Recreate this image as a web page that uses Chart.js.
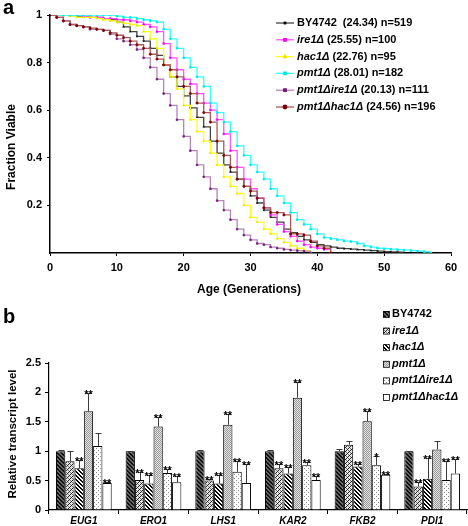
<!DOCTYPE html>
<html><head><meta charset="utf-8">
<script src="https://cdn.jsdelivr.net/npm/chart.js@4.4.0/dist/chart.umd.min.js"></script>
<style>
html,body{margin:0;padding:0;background:#fff;width:468px;height:526px;overflow:hidden}
canvas{position:absolute;left:0}
#ca{top:0}
#cb{top:300px}
</style></head><body>
<canvas id="ca" width="468" height="300"></canvas>
<canvas id="cb" width="468" height="226"></canvas>
<script>
const FONT = '"Liberation Sans", Arial, sans-serif';

// ---------- Panel a data (fraction viable at each generation, starting at 0) ----------
const strains = ['BY4742', 'ire1\u0394', 'hac1\u0394', 'pmt1\u0394', 'pmt1\u0394ire1\u0394', 'pmt1\u0394hac1\u0394'];
const strainItalic = [false, true, true, true, true, true];
const meanLife = ['24.34', '25.55', '22.76', '28.01', '20.13', '24.56'];
const nCells = [519, 100, 95, 182, 111, 196];

const survBY4742 = [1,1,1,0.997,0.995,0.993,0.99,0.99,0.985,0.98,
  0.97,0.95,0.93,0.91,0.89,0.86,0.83,0.79,0.74,0.70,
  0.66,0.61,0.57,0.53,0.47,0.42,0.37,0.34,0.31,0.28,
  0.24,0.21,0.18,0.15,0.13,0.10,0.085,0.07,0.055,0.045,
  0.035,0.03,0.025,0.02,0.018,0.016,0.014,0.012,0.01,0.008,
  0.006,0.005,0.004,0];
const survIre1 = [1,1,1,1,1,0.995,0.99,0.99,0.985,0.985,
  0.98,0.98,0.975,0.97,0.96,0.95,0.93,0.88,0.82,0.77,
  0.73,0.71,0.67,0.63,0.60,0.56,0.50,0.43,0.36,0.31,
  0.27,0.23,0.19,0.16,0.12,0.09,0.07,0.05,0.035,0.025,
  0.02,0.015,0];
const survHac1 = [1,1,1,0.995,0.99,0.99,0.99,0.985,0.98,0.975,
  0.97,0.965,0.96,0.955,0.93,0.90,0.86,0.79,0.74,0.69,
  0.62,0.56,0.51,0.47,0.42,0.37,0.32,0.28,0.25,0.20,
  0.15,0.13,0.10,0.08,0.06,0.045,0.03,0.02,0.01,0];
const survPmt1 = [1,1,1,1,1,1,1,1,1,1,
  0.995,0.99,0.99,0.985,0.98,0.975,0.97,0.94,0.90,0.86,
  0.82,0.78,0.74,0.70,0.63,0.59,0.55,0.51,0.45,0.41,
  0.37,0.34,0.31,0.27,0.24,0.21,0.17,0.14,0.12,0.10,
  0.08,0.065,0.06,0.055,0.05,0.048,0.04,0.03,0.025,0.02,
  0.018,0.016,0.014,0.012,0.01,0.008,0.005,0];
const survPmt1Ire1 = [1,0.99,0.975,0.96,0.955,0.95,0.94,0.94,0.935,0.92,
  0.90,0.89,0.875,0.855,0.82,0.78,0.73,0.67,0.62,0.56,
  0.49,0.43,0.37,0.32,0.27,0.22,0.18,0.14,0.10,0.075,
  0.055,0.04,0.035,0.025,0.02,0.015,0.012,0.01,0.008,0];
const survPmt1Hac1 = [1,0.99,0.975,0.96,0.955,0.95,0.945,0.94,0.935,0.925,
  0.915,0.905,0.89,0.875,0.86,0.835,0.815,0.79,0.77,0.74,
  0.70,0.67,0.63,0.59,0.55,0.47,0.41,0.36,0.31,0.28,
  0.26,0.23,0.19,0.17,0.17,0.16,0.08,0.08,0.075,0.05,
  0.03,0.02,0];
const xTicksA = [0, 10, 20, 30, 40, 50, 60];
const yTicksA = [0.2, 0.4, 0.6, 0.8, 1];

// ---------- Panel b data ----------
const genes = ['EUG1', 'ERO1', 'LHS1', 'KAR2', 'FKB2', 'PDI1'];
const exprBY4742   = [1, 1, 1, 1, 1, 1];
const exprIre1     = [0.83, 0.51, 0.50, 0.71, 1.11, 0.40];
const exprHac1     = [0.71, 0.45, 0.45, 0.62, 0.74, 0.53];
const exprPmt1     = [1.68, 1.42, 1.45, 1.91, 1.51, 1.03];
const exprPmt1Ire1 = [1.09, 0.63, 0.65, 0.76, 0.76, 0.51];
const exprPmt1Hac1 = [0.46, 0.47, 0.46, 0.51, 0.60, 0.62];
const errBY4742   = [0.02, 0.01, 0.02, 0.02, 0.04, 0.01];
const errIre1     = [0.18, 0.14, 0.02, 0.08, 0.07, 0.08];
const errHac1     = [0.14, 0.15, 0.15, 0.11, 0.04, 0.35];
const errPmt1     = [0.31, 0.17, 0.18, 0.26, 0.17, 0.14];
const errPmt1Ire1 = [0.22, 0.07, 0.18, 0.05, 0.15, 0.32];
const errPmt1Hac1 = [0.02, 0.10, 0.32, 0.06, 0.01, 0.25];
const sigBY4742   = ['', '', '', '', '', ''];
const sigIre1     = ['', '**', '**', '**', '', '**'];
const sigHac1     = ['**', '**', '**', '**', '**', '**'];
const sigPmt1     = ['**', '**', '**', '**', '**', ''];
const sigPmt1Ire1 = ['', '**', '**', '**', '*', '**'];
const sigPmt1Hac1 = ['**', '**', '**', '**', '**', '**'];
const yTicksB = [0, 0.5, 1, 1.5, 2, 2.5];

// ---------- styles ----------
const lineColors  = ['#444444', '#ff55ff', '#ffff22', '#33ffff', '#b585b5', '#a85a5a'];
const pointColors = ['#000000', '#ff00ff', '#e8e800', '#00e8e8', '#7a1a7a', '#800000'];
const pointStyles = ['crossRot', 'rect', 'triangle', 'rect', 'rect', 'circle'];

const survAll = [survBY4742, survIre1, survHac1, survPmt1, survPmt1Ire1, survPmt1Hac1];

function fmt(v) { return String(Number(v.toFixed(2))); }

const plotA = {
  id: 'decorA',
  afterDraw(chart) {
    const ctx = chart.ctx;
    ctx.save();
    ctx.fillStyle = '#000';
    ctx.font = 'bold 20px ' + FONT;
    ctx.textAlign = 'left'; ctx.textBaseline = 'alphabetic';
    ctx.fillText('a', 3, 14);
    ctx.font = 'bold 12px ' + FONT;
    ctx.textAlign = 'center'; ctx.textBaseline = 'middle';
    ctx.fillText('Age (Generations)', 249, 290);
    ctx.save();
    ctx.translate(12, 147); ctx.rotate(-Math.PI / 2);
    ctx.fillText('Fraction Viable', 0, 0);
    ctx.restore();
    for (let i = 0; i < strains.length; i++) {
      const y = 23 + i * 16.8;
      ctx.strokeStyle = lineColors[i]; ctx.lineWidth = 1.3;
      ctx.beginPath(); ctx.moveTo(276, y); ctx.lineTo(294, y); ctx.stroke();
      ctx.fillStyle = pointColors[i]; ctx.strokeStyle = pointColors[i];
      Chart.helpers.drawPoint(ctx, {pointStyle: pointStyles[i], radius: 1.8, borderWidth: 1, rotation: 0}, 285, y);
      ctx.fillStyle = '#000';
      ctx.textAlign = 'left'; ctx.textBaseline = 'middle';
      let x = 297;
      ctx.font = (strainItalic[i] ? 'italic ' : '') + 'bold 11px ' + FONT;
      ctx.fillText(strains[i], x, y);
      x += ctx.measureText(strains[i]).width;
      ctx.font = 'bold 11px ' + FONT;
      const rest = (i === 0 ? '  (' : ' (') + meanLife[i] + ') n=' + nCells[i];
      ctx.fillText(rest, x, y);
    }
    ctx.restore();
  }
};

new Chart(document.getElementById('ca'), {
  type: 'line',
  data: {
    datasets: survAll.map((arr, i) => ({
      label: strains[i],
      data: arr.map((v, g) => ({x: g, y: v})),
      borderColor: lineColors[i],
      borderWidth: 1.3,
      stepped: 'before',
      pointRadius: 1.1,
      pointStyle: pointStyles[i],
      pointBackgroundColor: pointColors[i],
      pointBorderColor: pointColors[i],
      pointBorderWidth: 0.8,
      fill: false,
      tension: 0
    })).reverse()
  },
  options: {
    responsive: false, animation: false,
    layout: {padding: {left: 0, top: 15, right: 17, bottom: 0}},
    plugins: {legend: {display: false}, tooltip: {enabled: false}},
    scales: {
      x: {
        type: 'linear', min: 0, max: 60,
        afterFit(s) { s.height = 47; },
        afterBuildTicks(s) { s.ticks = xTicksA.map(v => ({value: v})); },
        ticks: {color: '#000', font: {family: FONT, weight: 'bold', size: 11}, padding: 5, maxRotation: 0, callback: v => fmt(v)},
        grid: {drawOnChartArea: false, drawTicks: true, tickLength: 3, color: '#000'},
        border: {color: '#000', width: 1.5}
      },
      y: {
        min: 0, max: 1,
        afterFit(s) { s.width = 50; },
        afterBuildTicks(s) { s.ticks = yTicksA.map(v => ({value: v})); },
        ticks: {color: '#000', font: {family: FONT, weight: 'bold', size: 11}, padding: 5, callback: v => fmt(v)},
        grid: {drawOnChartArea: false, drawTicks: true, tickLength: 3, color: '#000'},
        border: {color: '#000', width: 1.5}
      }
    }
  },
  plugins: [plotA]
});

// ---------- Panel b ----------
const cbCtx = document.getElementById('cb').getContext('2d');
function makePattern(w, h, pix) {
  const c = document.createElement('canvas'); c.width = w; c.height = h;
  const g = c.getContext('2d');
  for (let y = 0; y < h; y++) for (let x = 0; x < w; x++) {
    g.fillStyle = pix(x, y); g.fillRect(x, y, 1, 1);
  }
  return cbCtx.createPattern(c, 'repeat');
}
const mod = (a, n) => ((a % n) + n) % n;
const fills = [
  makePattern(4, 4, (x, y) => mod(x - y, 4) < 2 ? '#111' : '#666'),
  makePattern(4, 4, (x, y) => mod(x + y, 4) === 0 ? '#222' : (mod(x - y, 4) === 2 ? '#777' : '#e6e6e6')),
  makePattern(4, 4, (x, y) => mod(x - y, 4) < 2 ? '#000' : '#fff'),
  makePattern(2, 2, (x, y) => mod(x + y, 2) === 0 ? '#9a9a9a' : '#e2e2e2'),
  makePattern(4, 4, (x, y) => ((x === 0 && y === 0) || (x === 2 && y === 2)) ? '#8a8a8a' : '#ffffff'),
  '#ffffff'
];
const exprAll = [exprBY4742, exprIre1, exprHac1, exprPmt1, exprPmt1Ire1, exprPmt1Hac1];
const errAll = [errBY4742, errIre1, errHac1, errPmt1, errPmt1Ire1, errPmt1Hac1];
const sigAll = [sigBY4742, sigIre1, sigHac1, sigPmt1, sigPmt1Ire1, sigPmt1Hac1];

const plotB = {
  id: 'decorB',
  afterDatasetsDraw(chart) {
    const ctx = chart.ctx, ys = chart.scales.y;
    ctx.save();
    chart.data.datasets.forEach((ds, di) => {
      const meta = chart.getDatasetMeta(di);
      meta.data.forEach((bar, i) => {
        const v = ds.data[i], e = errAll[di][i];
        const yTop = Math.round(ys.getPixelForValue(v + e)) + 0.5;
        const xc = Math.round(bar.x) + 0.5;
        ctx.strokeStyle = '#3a3a3a'; ctx.lineWidth = 1;
        ctx.beginPath();
        ctx.moveTo(xc, bar.y); ctx.lineTo(xc, yTop);
        ctx.moveTo(xc - 3, yTop); ctx.lineTo(xc + 3, yTop);
        ctx.stroke();
        const s = sigAll[di][i];
        if (s) {
          ctx.fillStyle = '#000';
          ctx.font = 'bold 11px ' + FONT;
          ctx.textAlign = 'center'; ctx.textBaseline = 'alphabetic';
          ctx.fillText(s, bar.x, yTop + 4);
        }
      });
    });
    ctx.restore();
  },
  afterDraw(chart) {
    const ctx = chart.ctx;
    ctx.save();
    ctx.fillStyle = '#000';
    ctx.font = 'bold 20px ' + FONT;
    ctx.textAlign = 'left'; ctx.textBaseline = 'alphabetic';
    ctx.fillText('b', 3, 23);
    ctx.font = 'bold 11.5px ' + FONT;
    ctx.textAlign = 'center'; ctx.textBaseline = 'middle';
    ctx.save();
    ctx.translate(13, 134); ctx.rotate(-Math.PI / 2);
    ctx.fillText('Relative transcript level', 0, 0);
    ctx.restore();
    for (let i = 0; i < strains.length; i++) {
      const y = 14 + i * 16.6;
      ctx.fillStyle = fills[i];
      ctx.fillRect(383, y - 3, 6, 6);
      ctx.strokeStyle = '#000'; ctx.lineWidth = 0.8;
      ctx.strokeRect(383.5, y - 2.5, 6, 6);
      ctx.fillStyle = '#000';
      ctx.textAlign = 'left'; ctx.textBaseline = 'middle';
      ctx.font = (strainItalic[i] ? 'italic ' : '') + 'bold 11px ' + FONT;
      ctx.fillText(strains[i], 392, y);
    }
    ctx.restore();
  }
};

new Chart(cbCtx, {
  type: 'bar',
  data: {
    labels: genes,
    datasets: exprAll.map((arr, i) => ({
      label: strains[i],
      data: arr,
      backgroundColor: fills[i],
      borderColor: '#000',
      borderWidth: 1,
      categoryPercentage: 0.8,
      barPercentage: 1.0
    }))
  },
  options: {
    responsive: false, animation: false,
    layout: {padding: {left: 0, top: 63, right: 1, bottom: 0}},
    plugins: {legend: {display: false}, tooltip: {enabled: false}},
    scales: {
      x: {
        afterFit(s) { s.height = 16; },
        ticks: {color: '#000', font: {family: FONT, weight: 'bold', style: 'italic', size: 10}, padding: 1, maxRotation: 0},
        grid: {offset: true, drawOnChartArea: false, drawTicks: true, tickLength: 4, color: '#000'},
        border: {color: '#000', width: 1.2}
      },
      y: {
        min: 0, max: 2.5,
        afterFit(s) { s.width = 49; },
        afterBuildTicks(s) { s.ticks = yTicksB.map(v => ({value: v})); },
        ticks: {color: '#000', font: {family: FONT, weight: 'bold', size: 11}, padding: 4, callback: v => fmt(v)},
        grid: {drawOnChartArea: false, drawTicks: true, tickLength: 4, color: '#000'},
        border: {color: '#000', width: 1.2}
      }
    }
  },
  plugins: [plotB]
});
</script>
</body></html>
